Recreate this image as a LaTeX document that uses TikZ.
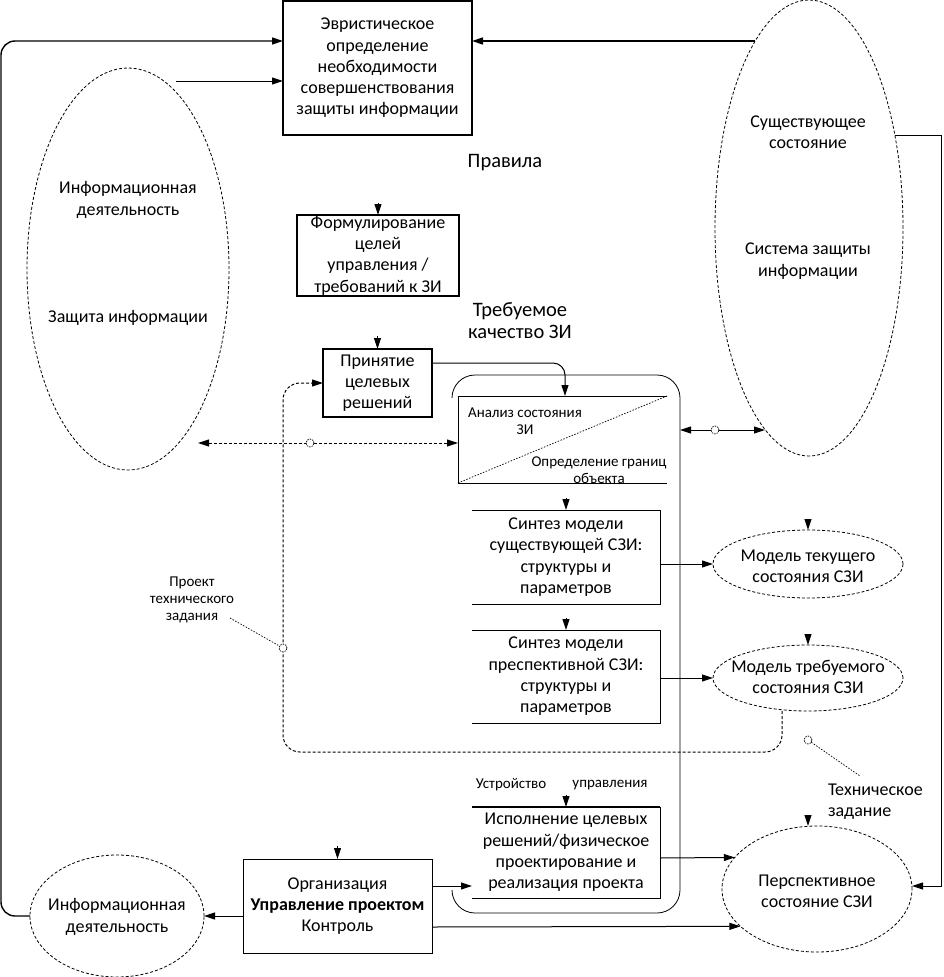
\documentclass[tikz,border=0pt]{standalone}
\usepackage{fontspec}
\setmainfont{Carlito}
\usetikzlibrary{shapes.geometric,arrows.meta,calc}
\begin{document}
\begin{tikzpicture}[x=1pt,y=-1pt,
  every node/.style={inner sep=0pt,outer sep=0pt},
  txt/.style={font=\fontsize{18}{21.3}\selectfont,align=center},
  bigtxt/.style={font=\fontsize{20.5}{22}\selectfont,align=center},
  smalltxt/.style={font=\fontsize{15}{17}\selectfont,align=center},
  thickbox/.style={draw,line width=2pt,rectangle,txt},
  thinbox/.style={draw,line width=1pt,rectangle,txt},
  openbox/.style={rectangle,txt},
  dell/.style={draw,ellipse,line width=0.8pt,dash pattern=on 3pt off 2pt},
  tip/.style={-{Triangle[length=11pt,width=7pt]}},
  con/.style={line width=1pt,tip},
  stub/.style={line width=1pt,tip},
  dline/.style={line width=1pt,dash pattern=on 3pt off 2pt},
  leader/.style={line width=0.7pt,dash pattern=on 1.5pt off 1.5pt},
  joint/.style={circle,draw,fill=white,minimum size=8pt,line width=0.7pt,dash pattern=on 1.5pt off 1pt}
]
\useasboundingbox (0,0) rectangle (943,977);

% ---------- ellipses ----------
\node[dell,minimum width=202pt,minimum height=402pt] (leftell) at (128,269) {};
\node[txt] (lt1) at (128,200) {Информационная\\деятельность};
\node[txt] (lt2) at (128,318) {Защита информации};

\node[dell,minimum width=188pt,minimum height=456pt] (rightell) at (809,228) {};
\node[txt] (rt1) at (808,132) {Существующее\\состояние};
\node[txt] (rt2) at (808,261) {Система защиты\\информации};

\node[dell,minimum width=190pt,minimum height=68pt] (modtek) at (808,564) {};
\node[txt] at (808,566) {Модель текущего\\состояния СЗИ};
\node[dell,minimum width=190pt,minimum height=66pt] (modtreb) at (808,678) {};
\node[txt] at (808,677) {Модель требуемого\\состояния СЗИ};
\node[dell,minimum width=190pt,minimum height=126pt] (persp) at (817,889) {};
\node[txt] at (817,891) {Перспективное\\состояние СЗИ};
\node[dell,minimum width=174pt,minimum height=122pt] (botell) at (117,916) {};
\node[txt] at (117,917) {Информационная\\деятельность};

% ---------- boxes ----------
\node[thickbox,minimum width=189pt,minimum height=134pt] (heur) at (377.5,68)
  {Эвристическое\\определение\\необходимости\\совершенствования\\защиты информации};
\node[thickbox,minimum width=162pt,minimum height=81pt] (form) at (378,255.5)
  {Формулирование\\целей\\управления /\\требований к ЗИ};
\node[thickbox,minimum width=109pt,minimum height=68pt] (prin) at (377.5,383)
  {Принятие\\целевых\\решений};
\node[thinbox,minimum width=189pt,minimum height=94pt] (org) at (337.5,906)
  {Организация\\\textbf{Управление проектом}\\Контроль};

% analysis box (open on the right)
\node[rectangle,minimum width=209pt,minimum height=87pt] (anal) at (562.5,439.5) {};
\draw[line width=1pt] (anal.north east) -- (anal.north west) -- (anal.south west) -- (anal.south east);
\draw[leader] (anal.south west) -- (anal.north east);
\node[smalltxt] at (525,421) {Анализ состояния\\ЗИ};
\node[smalltxt] at (599,470) {Определение границ\\объекта};

% synthesis boxes (open on the left)
\node[openbox,minimum width=188pt,minimum height=94pt] (syn1) at (566,557)
  {Синтез модели\\существующей СЗИ:\\структуры и\\параметров};
\draw[line width=1pt] (syn1.north west) -- (syn1.north east) -- (syn1.south east) -- (syn1.south west);
\node[openbox,minimum width=188pt,minimum height=93pt] (syn2) at (566,676.5)
  {Синтез модели\\преспективной СЗИ:\\структуры и\\параметров};
\draw[line width=1pt] (syn2.north west) -- (syn2.north east) -- (syn2.south east) -- (syn2.south west);
\node[openbox,minimum width=188pt,minimum height=91pt] (isp) at (566,852.5)
  {Исполнение целевых\\решений/физическое\\проектирование и\\реализация проекта};
\draw[line width=2pt] (isp.north west) -- (isp.north east);
\draw[line width=1pt] (isp.north east) -- (isp.south east) -- (isp.south west);

% container
\draw[line width=0.8pt,rounded corners=23pt] (452,398) -- (452,375) -- (680,375) -- (680,913) -- (452,913) -- (452,890);

% ---------- free texts ----------
\node[bigtxt] (prav) at (505,163) {Правила};
\node[bigtxt] (treb) at (520,321) {Требуемое\\качество ЗИ};
\node[smalltxt] (ptz) at (192,600) {Проект\\технического\\задания};
\node[txt,align=left,anchor=west] (tz) at (828,802) {Техническое\\задание};
\node[smalltxt] (ustr) at (511,785) {Устройство};
\node[smalltxt] (upr) at (610,785) {управления};

% ---------- connectors ----------
\draw[con,line width=1.4pt,rounded corners=14pt] (botell.west) -- (1,916) -- (1,41) -- (heur.west |- 0,41);
\coordinate (lstart) at (176,81);
\draw[con] (lstart) -- (heur.west |- lstart);
\coordinate (rstart) at (755,41);
\draw[con,line width=1.4pt] (rstart) -- (heur.east |- rstart);
\coordinate (rstart2) at (895,135);
\draw[con] (rstart2) -- (941,135) -- (941,886) -- (persp.east |- 0,886);

% stubs
\draw[stub] ($(form.north)+(0,-12)$) -- (form.north);
\draw[stub] ($(prin.north)+(0,-13)$) -- (prin.north);
\draw[stub] ($(syn1.north)+(0,-12)$) -- (syn1.north);
\draw[stub] ($(syn2.north)+(0,-12)$) -- (syn2.north);
\draw[stub] ($(isp.north)+(0,-12)$) -- (isp.north);
\draw[stub] ($(org.north)+(0,-13)$) -- (org.north);
\draw[stub] ($(modtek.north)+(0,-11)$) -- (modtek.north);
\draw[stub] ($(modtreb.north)+(0,-11)$) -- (modtreb.north);
\draw[stub] (808,815) -- (persp.north -| 808,0);

\draw[con,rounded corners=12pt] (prin.east |- 0,363) -- (565,363) -- (anal.north -| 565,0);

% dashed feedback loop
\draw[dline,tip,rounded corners=17pt] (modtreb.south -| 782,0) -- (782,752) -- (283,752) -- (283,383) -- (prin.west |- 0,383);
\node[joint] (j1) at (283,648) {};
\coordinate (ptzend) at (230,618);
\draw[leader] (ptzend) -- (j1);
\node[joint] (j2) at (808,740) {};
\coordinate (tzend) at (860,776);
\draw[leader] (j2) -- (tzend);

% dashed double arrow
\coordinate (lda) at (198,443);
\draw[dline,{Triangle[length=11pt,width=7pt]}-{Triangle[length=11pt,width=7pt]}] (lda) -- (anal.west |- lda);
\node[joint] (j3) at (310,443) {};
% solid double arrow
\coordinate (rda) at (765,430);
\draw[line width=1pt,{Triangle[length=11pt,width=7pt]}-{Triangle[length=11pt,width=7pt]}] (680,430) -- (rda);
\node[joint] (j4) at (715,430) {};

\draw[con] (syn1.east |- modtek.west) -- (modtek.west);
\draw[con] (syn2.east |- modtreb.west) -- (modtreb.west);
\draw[con] (isp.east |- 0,858) -- (persp.159.5);
\draw[con] (org.east |- 0,886) -- (isp.west |- 0,886);
\draw[con] (org.east |- 0,927) -- (persp.206.6);
\draw[con] (org.west |- botell.east) -- (botell.east);
\end{tikzpicture}
\end{document}
